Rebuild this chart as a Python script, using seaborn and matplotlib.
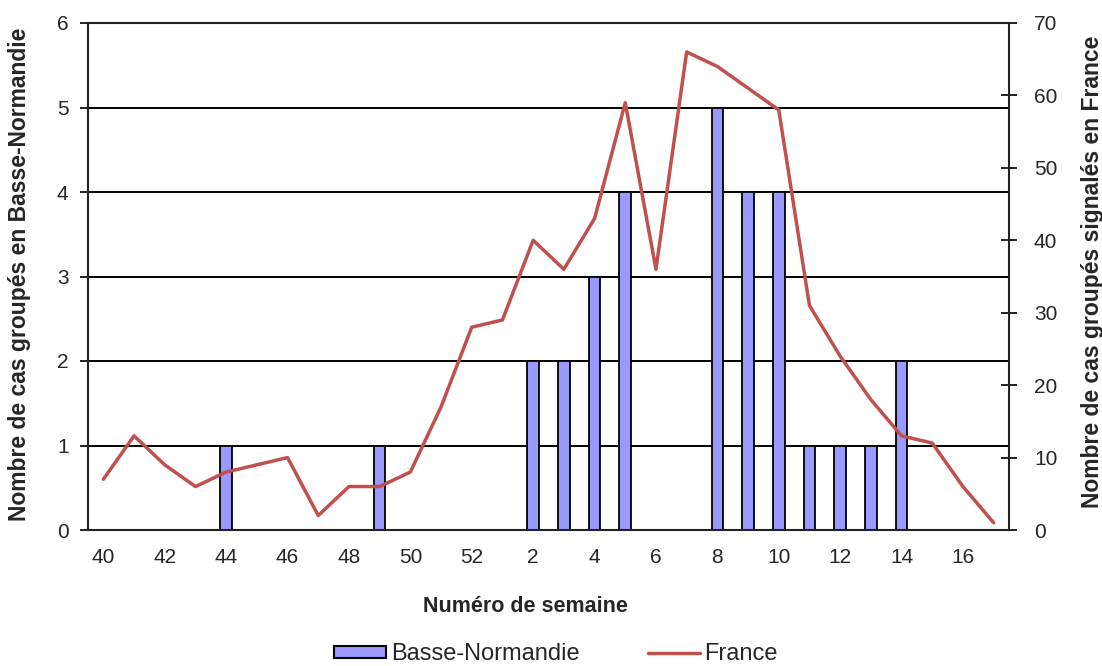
import numpy as np
import pandas as pd
import matplotlib
matplotlib.use("Agg")
import matplotlib.pyplot as plt
from matplotlib.patches import Patch
from matplotlib.lines import Line2D
import seaborn as sns

weeks = [40, 41, 42, 43, 44, 45, 46, 47, 48, 49, 50, 51, 52,
         1, 2, 3, 4, 5, 6, 7, 8, 9, 10, 11, 12, 13, 14, 15, 16, 17]
basse_normandie = [0, 0, 0, 0, 1, 0, 0, 0, 0, 1, 0, 0, 0,
                   0, 2, 2, 3, 4, 0, 0, 5, 4, 4, 1, 1, 1, 2, 0, 0, 0]
france = [7, 13, 9, 6, 8, 9, 10, 2, 6, 6, 8, 17, 28,
          29, 40, 36, 43, 59, 36, 66, 64, 61, 58, 31, 24, 18, 13, 12, 6, 1]
left_ticks = [0, 1, 2, 3, 4, 5, 6]
right_ticks = [0, 10, 20, 30, 40, 50, 60, 70]

bar_color = "#9999FF"
line_color = "#C0504D"
axis_color = "#222222"

sns.set_style("white")
plt.rcParams["font.family"] = ["Liberation Sans", "DejaVu Sans"]

df = pd.DataFrame({"week": [str(w) for w in weeks],
                   "bn": basse_normandie,
                   "fr": france,
                   "pos": np.arange(len(weeks))})

W, H = 1102, 666
L, R, T, B = 88, 1009, 23, 530
fig = plt.figure(figsize=(W/100, H/100), dpi=100)
ax = fig.add_axes([L/W, 1-B/H, (R-L)/W, (B-T)/H])

sns.barplot(data=df, x="week", y="bn", order=df["week"].tolist(), ax=ax,
            color=bar_color, saturation=1, width=0.38,
            edgecolor="black", linewidth=1.3)
ax.set_xlim(-0.5, len(weeks) - 0.5)
ax.set_ylim(0, 6)
ax.set_yticks(left_ticks)
ax.set_yticklabels([str(t) for t in left_ticks])
ax.grid(axis="y", color="black", linewidth=1.4)
ax.grid(axis="x", visible=False)
ax.set_axisbelow(True)

major = np.arange(0, len(weeks), 2)
ax.set_xticks(major)
ax.set_xticklabels([str(weeks[i]) for i in major])
ax.set_xticks(np.arange(-0.5, len(weeks), 1), minor=True)
ax.tick_params(axis="x", which="major", length=0, labelsize=15, pad=13)
ax.tick_params(axis="x", which="minor", length=6, width=1.4, color=axis_color, direction="out")
ax.tick_params(axis="y", which="major", length=6, width=1.4, color=axis_color,
               direction="out", labelsize=15, pad=8)
for s in ["left", "bottom", "top", "right"]:
    ax.spines[s].set_color(axis_color)
    ax.spines[s].set_linewidth(1.5)
ax.spines["right"].set_visible(False)

ax.set_xlabel("Numéro de semaine", fontsize=15.5, fontweight="bold")
ax.xaxis.set_label_coords((525-L)/(R-L), -(596-B)/(B-T))
ax.set_ylabel("Nombre de cas groupés en Basse-Normandie", fontsize=16.5, fontweight="bold")
ax.yaxis.set_label_coords(-(L-31)/(R-L), 0.505)

ax2 = ax.twinx()
sns.lineplot(data=df, x="pos", y="fr", ax=ax2, color=line_color, linewidth=2.5)
ax2.set_ylim(0, 70)
ax2.set_yticks(right_ticks)
ax2.set_yticklabels([str(t) for t in right_ticks])
ax2.tick_params(axis="y", length=12, width=1.4, color=axis_color,
                direction="inout", labelsize=15, pad=12)
ax2.set_xlim(-0.5, len(weeks) - 0.5)
for s in ["left", "bottom", "top"]:
    ax2.spines[s].set_visible(False)
ax2.spines["right"].set_color(axis_color)
ax2.spines["right"].set_linewidth(1.5)
ax2.set_ylabel("Nombre de cas groupés signalés en France", fontsize=16.5, fontweight="bold")
ax2.yaxis.set_label_coords(1 + (1081-R)/(R-L), 0.51)
ax2.set_xlabel("")
ax2.grid(False)

handles = [Patch(facecolor=bar_color, edgecolor="black", linewidth=1.5),
           Line2D([0], [0], color=line_color, linewidth=2.5)]
fig.legend(handles, ["Basse-Normandie", "France"], loc="center",
           bbox_to_anchor=(556/W, 1-654/H), ncol=2, frameon=False,
           fontsize=17, handlelength=2.2, handleheight=0.4, handletextpad=0.2,
           columnspacing=2.9)

fig.savefig("out.png", dpi=100)
